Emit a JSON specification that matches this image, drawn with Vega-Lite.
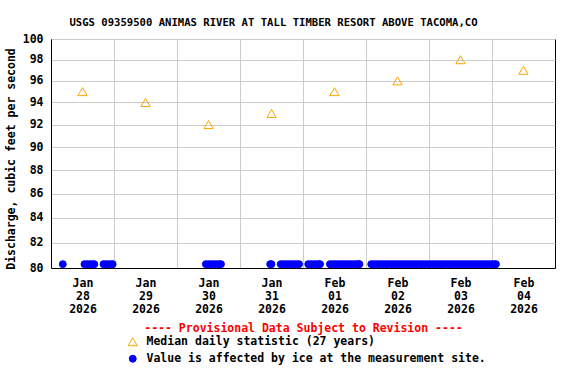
{
  "$schema": "https://vega.github.io/schema/vega-lite/v6.json",
  "autosize": "none",
  "width": 504,
  "height": 229,
  "padding": {"left": 51, "top": 39, "right": 21, "bottom": 116},
  "background": "white",
  "title": {
    "text": "USGS 09359500 ANIMAS RIVER AT TALL TIMBER RESORT ABOVE TACOMA,CO",
    "font": "DejaVu Sans Mono",
    "fontWeight": "bold",
    "fontSize": 10.6,
    "color": "black",
    "anchor": "middle",
    "baseline": "alphabetic",
    "dx": -29.5,
    "offset": -4,
    "limit": 0
  },
  "config": {
    "view": {"stroke": "black", "strokeWidth": 1},
    "axis": {
      "domainColor": "black",
      "gridColor": "#CCCCCC",
      "gridWidth": 1,
      "ticks": false,
      "labelFont": "DejaVu Sans Mono",
      "labelFontWeight": "bold",
      "labelFontSize": 11.5,
      "labelColor": "black",
      "titleFont": "DejaVu Sans Mono",
      "titleFontWeight": "bold",
      "titleFontSize": 11.5,
      "titleColor": "black"
    }
  },
  "data": {
    "values": [
      {"t": "2026-01-28T12:00", "q": 95, "s": "Median daily statistic (27 years)"},
      {"t": "2026-01-29T12:00", "q": 94, "s": "Median daily statistic (27 years)"},
      {"t": "2026-01-30T12:00", "q": 92, "s": "Median daily statistic (27 years)"},
      {"t": "2026-01-31T12:00", "q": 93, "s": "Median daily statistic (27 years)"},
      {"t": "2026-02-01T12:00", "q": 95, "s": "Median daily statistic (27 years)"},
      {"t": "2026-02-02T12:00", "q": 96, "s": "Median daily statistic (27 years)"},
      {"t": "2026-02-03T12:00", "q": 98, "s": "Median daily statistic (27 years)"},
      {"t": "2026-02-04T12:00", "q": 97, "s": "Median daily statistic (27 years)"},
      {"t": "2026-01-28T04:30", "q": 80.3, "s": "Value is affected by ice at the measurement site."},
      {"t": "2026-01-28T12:45", "q": 80.3, "s": "Value is affected by ice at the measurement site."},
      {"t": "2026-01-28T13:45", "q": 80.3, "s": "Value is affected by ice at the measurement site."},
      {"t": "2026-01-28T14:45", "q": 80.3, "s": "Value is affected by ice at the measurement site."},
      {"t": "2026-01-28T15:45", "q": 80.3, "s": "Value is affected by ice at the measurement site."},
      {"t": "2026-01-28T16:30", "q": 80.3, "s": "Value is affected by ice at the measurement site."},
      {"t": "2026-01-28T20:00", "q": 80.3, "s": "Value is affected by ice at the measurement site."},
      {"t": "2026-01-28T21:00", "q": 80.3, "s": "Value is affected by ice at the measurement site."},
      {"t": "2026-01-28T22:00", "q": 80.3, "s": "Value is affected by ice at the measurement site."},
      {"t": "2026-01-28T23:00", "q": 80.3, "s": "Value is affected by ice at the measurement site."},
      {"t": "2026-01-28T23:30", "q": 80.3, "s": "Value is affected by ice at the measurement site."},
      {"t": "2026-01-30T11:00", "q": 80.3, "s": "Value is affected by ice at the measurement site."},
      {"t": "2026-01-30T12:00", "q": 80.3, "s": "Value is affected by ice at the measurement site."},
      {"t": "2026-01-30T13:00", "q": 80.3, "s": "Value is affected by ice at the measurement site."},
      {"t": "2026-01-30T14:00", "q": 80.3, "s": "Value is affected by ice at the measurement site."},
      {"t": "2026-01-30T15:00", "q": 80.3, "s": "Value is affected by ice at the measurement site."},
      {"t": "2026-01-30T16:00", "q": 80.3, "s": "Value is affected by ice at the measurement site."},
      {"t": "2026-01-30T16:45", "q": 80.3, "s": "Value is affected by ice at the measurement site."},
      {"t": "2026-01-31T11:30", "q": 80.3, "s": "Value is affected by ice at the measurement site."},
      {"t": "2026-01-31T12:00", "q": 80.3, "s": "Value is affected by ice at the measurement site."},
      {"t": "2026-01-31T15:30", "q": 80.3, "s": "Value is affected by ice at the measurement site."},
      {"t": "2026-01-31T16:30", "q": 80.3, "s": "Value is affected by ice at the measurement site."},
      {"t": "2026-01-31T17:30", "q": 80.3, "s": "Value is affected by ice at the measurement site."},
      {"t": "2026-01-31T18:30", "q": 80.3, "s": "Value is affected by ice at the measurement site."},
      {"t": "2026-01-31T19:30", "q": 80.3, "s": "Value is affected by ice at the measurement site."},
      {"t": "2026-01-31T20:30", "q": 80.3, "s": "Value is affected by ice at the measurement site."},
      {"t": "2026-01-31T21:30", "q": 80.3, "s": "Value is affected by ice at the measurement site."},
      {"t": "2026-01-31T22:30", "q": 80.3, "s": "Value is affected by ice at the measurement site."},
      {"t": "2026-02-01T02:00", "q": 80.3, "s": "Value is affected by ice at the measurement site."},
      {"t": "2026-02-01T03:00", "q": 80.3, "s": "Value is affected by ice at the measurement site."},
      {"t": "2026-02-01T04:00", "q": 80.3, "s": "Value is affected by ice at the measurement site."},
      {"t": "2026-02-01T05:00", "q": 80.3, "s": "Value is affected by ice at the measurement site."},
      {"t": "2026-02-01T06:00", "q": 80.3, "s": "Value is affected by ice at the measurement site."},
      {"t": "2026-02-01T06:30", "q": 80.3, "s": "Value is affected by ice at the measurement site."},
      {"t": "2026-02-01T10:15", "q": 80.3, "s": "Value is affected by ice at the measurement site."},
      {"t": "2026-02-01T11:15", "q": 80.3, "s": "Value is affected by ice at the measurement site."},
      {"t": "2026-02-01T12:15", "q": 80.3, "s": "Value is affected by ice at the measurement site."},
      {"t": "2026-02-01T13:15", "q": 80.3, "s": "Value is affected by ice at the measurement site."},
      {"t": "2026-02-01T14:15", "q": 80.3, "s": "Value is affected by ice at the measurement site."},
      {"t": "2026-02-01T15:15", "q": 80.3, "s": "Value is affected by ice at the measurement site."},
      {"t": "2026-02-01T16:15", "q": 80.3, "s": "Value is affected by ice at the measurement site."},
      {"t": "2026-02-01T17:15", "q": 80.3, "s": "Value is affected by ice at the measurement site."},
      {"t": "2026-02-01T18:15", "q": 80.3, "s": "Value is affected by ice at the measurement site."},
      {"t": "2026-02-01T19:15", "q": 80.3, "s": "Value is affected by ice at the measurement site."},
      {"t": "2026-02-01T20:15", "q": 80.3, "s": "Value is affected by ice at the measurement site."},
      {"t": "2026-02-01T21:15", "q": 80.3, "s": "Value is affected by ice at the measurement site."},
      {"t": "2026-02-01T21:30", "q": 80.3, "s": "Value is affected by ice at the measurement site."},
      {"t": "2026-02-02T02:00", "q": 80.3, "s": "Value is affected by ice at the measurement site."},
      {"t": "2026-02-02T03:00", "q": 80.3, "s": "Value is affected by ice at the measurement site."},
      {"t": "2026-02-02T04:00", "q": 80.3, "s": "Value is affected by ice at the measurement site."},
      {"t": "2026-02-02T05:00", "q": 80.3, "s": "Value is affected by ice at the measurement site."},
      {"t": "2026-02-02T06:00", "q": 80.3, "s": "Value is affected by ice at the measurement site."},
      {"t": "2026-02-02T07:00", "q": 80.3, "s": "Value is affected by ice at the measurement site."},
      {"t": "2026-02-02T08:00", "q": 80.3, "s": "Value is affected by ice at the measurement site."},
      {"t": "2026-02-02T09:00", "q": 80.3, "s": "Value is affected by ice at the measurement site."},
      {"t": "2026-02-02T10:00", "q": 80.3, "s": "Value is affected by ice at the measurement site."},
      {"t": "2026-02-02T11:00", "q": 80.3, "s": "Value is affected by ice at the measurement site."},
      {"t": "2026-02-02T12:00", "q": 80.3, "s": "Value is affected by ice at the measurement site."},
      {"t": "2026-02-02T13:00", "q": 80.3, "s": "Value is affected by ice at the measurement site."},
      {"t": "2026-02-02T14:00", "q": 80.3, "s": "Value is affected by ice at the measurement site."},
      {"t": "2026-02-02T15:00", "q": 80.3, "s": "Value is affected by ice at the measurement site."},
      {"t": "2026-02-02T16:00", "q": 80.3, "s": "Value is affected by ice at the measurement site."},
      {"t": "2026-02-02T17:00", "q": 80.3, "s": "Value is affected by ice at the measurement site."},
      {"t": "2026-02-02T18:00", "q": 80.3, "s": "Value is affected by ice at the measurement site."},
      {"t": "2026-02-02T19:00", "q": 80.3, "s": "Value is affected by ice at the measurement site."},
      {"t": "2026-02-02T20:00", "q": 80.3, "s": "Value is affected by ice at the measurement site."},
      {"t": "2026-02-02T21:00", "q": 80.3, "s": "Value is affected by ice at the measurement site."},
      {"t": "2026-02-02T22:00", "q": 80.3, "s": "Value is affected by ice at the measurement site."},
      {"t": "2026-02-02T23:00", "q": 80.3, "s": "Value is affected by ice at the measurement site."},
      {"t": "2026-02-03T00:00", "q": 80.3, "s": "Value is affected by ice at the measurement site."},
      {"t": "2026-02-03T01:00", "q": 80.3, "s": "Value is affected by ice at the measurement site."},
      {"t": "2026-02-03T02:00", "q": 80.3, "s": "Value is affected by ice at the measurement site."},
      {"t": "2026-02-03T03:00", "q": 80.3, "s": "Value is affected by ice at the measurement site."},
      {"t": "2026-02-03T04:00", "q": 80.3, "s": "Value is affected by ice at the measurement site."},
      {"t": "2026-02-03T05:00", "q": 80.3, "s": "Value is affected by ice at the measurement site."},
      {"t": "2026-02-03T06:00", "q": 80.3, "s": "Value is affected by ice at the measurement site."},
      {"t": "2026-02-03T07:00", "q": 80.3, "s": "Value is affected by ice at the measurement site."},
      {"t": "2026-02-03T08:00", "q": 80.3, "s": "Value is affected by ice at the measurement site."},
      {"t": "2026-02-03T09:00", "q": 80.3, "s": "Value is affected by ice at the measurement site."},
      {"t": "2026-02-03T10:00", "q": 80.3, "s": "Value is affected by ice at the measurement site."},
      {"t": "2026-02-03T11:00", "q": 80.3, "s": "Value is affected by ice at the measurement site."},
      {"t": "2026-02-03T12:00", "q": 80.3, "s": "Value is affected by ice at the measurement site."},
      {"t": "2026-02-03T13:00", "q": 80.3, "s": "Value is affected by ice at the measurement site."},
      {"t": "2026-02-03T14:00", "q": 80.3, "s": "Value is affected by ice at the measurement site."},
      {"t": "2026-02-03T15:00", "q": 80.3, "s": "Value is affected by ice at the measurement site."},
      {"t": "2026-02-03T16:00", "q": 80.3, "s": "Value is affected by ice at the measurement site."},
      {"t": "2026-02-03T17:00", "q": 80.3, "s": "Value is affected by ice at the measurement site."},
      {"t": "2026-02-03T18:00", "q": 80.3, "s": "Value is affected by ice at the measurement site."},
      {"t": "2026-02-03T19:00", "q": 80.3, "s": "Value is affected by ice at the measurement site."},
      {"t": "2026-02-03T20:00", "q": 80.3, "s": "Value is affected by ice at the measurement site."},
      {"t": "2026-02-03T21:00", "q": 80.3, "s": "Value is affected by ice at the measurement site."},
      {"t": "2026-02-03T22:00", "q": 80.3, "s": "Value is affected by ice at the measurement site."},
      {"t": "2026-02-03T23:00", "q": 80.3, "s": "Value is affected by ice at the measurement site."},
      {"t": "2026-02-04T00:00", "q": 80.3, "s": "Value is affected by ice at the measurement site."},
      {"t": "2026-02-04T01:00", "q": 80.3, "s": "Value is affected by ice at the measurement site."},
      {"t": "2026-02-04T01:30", "q": 80.3, "s": "Value is affected by ice at the measurement site."}
    ]
  },
  "mark": {"type": "point", "opacity": 1, "strokeWidth": 1},
  "encoding": {
    "x": {
      "field": "t",
      "type": "temporal",
      "scale": {
        "domain": [
          {"year": 2026, "month": "jan", "date": 28},
          {"year": 2026, "month": "feb", "date": 5}
        ]
      },
      "axis": {
        "title": "---- Provisional Data Subject to Revision ----",
        "titleColor": "#FF0000",
        "titlePadding": 7.5,
        "values": [
          {"year": 2026, "month": "jan", "date": 28},
          {"year": 2026, "month": "jan", "date": 29},
          {"year": 2026, "month": "jan", "date": 30},
          {"year": 2026, "month": "jan", "date": 31},
          {"year": 2026, "month": "feb", "date": 1},
          {"year": 2026, "month": "feb", "date": 2},
          {"year": 2026, "month": "feb", "date": 3},
          {"year": 2026, "month": "feb", "date": 4}
        ],
        "labelExpr": "[timeFormat(datum.value, '%b'), timeFormat(datum.value, '%d'), timeFormat(datum.value, '%Y')]",
        "labelOffset": 31.5,
        "labelPadding": 9,
        "labelLineHeight": 13,
        "labelFlush": false,
        "labelOverlap": false,
        "labelBound": false,
        "labelAlign": "center",
        "labelBaseline": "top"
      }
    },
    "y": {
      "field": "q",
      "type": "quantitative",
      "scale": {"type": "log", "domain": [80, 100], "nice": false},
      "axis": {
        "title": "Discharge, cubic feet per second",
        "values": [80, 82, 84, 86, 88, 90, 92, 94, 96, 98, 100],
        "format": "d",
        "labelPadding": 8,
        "titlePadding": 6,
        "titleY": 119.5
      }
    },
    "shape": {
      "field": "s",
      "type": "nominal",
      "scale": {
        "domain": ["Median daily statistic (27 years)", "Value is affected by ice at the measurement site."],
        "range": ["triangle-up", "circle"]
      },
      "legend": {
        "title": null,
        "orient": "none",
        "legendX": 76,
        "legendY": 297,
        "direction": "vertical",
        "padding": 0,
        "rowPadding": 4,
        "labelOffset": 8,
        "labelLimit": 0,
        "labelFont": "DejaVu Sans Mono",
        "labelFontWeight": "bold",
        "labelFontSize": 11.5,
        "labelColor": "black",
        "symbolStrokeWidth": 1,
        "symbolOpacity": 1
      }
    },
    "fill": {
      "field": "s",
      "type": "nominal",
      "scale": {
        "domain": ["Median daily statistic (27 years)", "Value is affected by ice at the measurement site."],
        "range": ["transparent", "#0000FF"]
      }
    },
    "stroke": {
      "field": "s",
      "type": "nominal",
      "scale": {
        "domain": ["Median daily statistic (27 years)", "Value is affected by ice at the measurement site."],
        "range": ["#FFA500", "#0000FF"]
      }
    },
    "size": {
      "field": "s",
      "type": "nominal",
      "scale": {
        "domain": ["Median daily statistic (27 years)", "Value is affected by ice at the measurement site."],
        "range": [85, 48]
      }
    }
  }
}
